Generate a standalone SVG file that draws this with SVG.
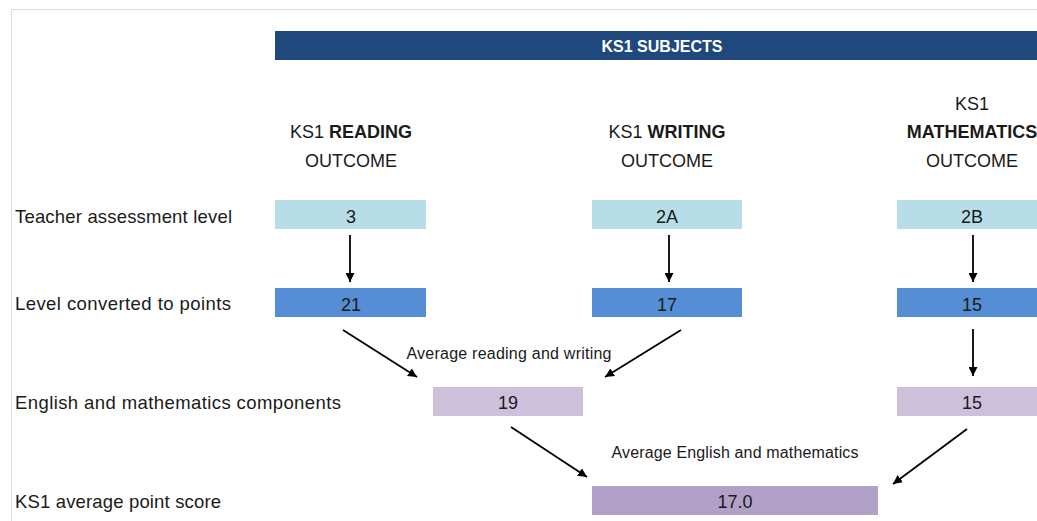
<svg xmlns="http://www.w3.org/2000/svg" width="1037" height="521" viewBox="0 0 1037 521">
<style>
text{font-family:"Liberation Sans",Arial,sans-serif;fill:#1a1a1a}
.lbl{font-size:18.5px}
.hd{font-size:18px;text-anchor:middle}
.val{font-size:18px;text-anchor:middle}
.note{font-size:16px;text-anchor:middle}
.b{font-weight:bold}
.conn line{stroke:#000;stroke-width:1.8;marker-end:url(#ah)}
.ta{fill:#B7DEE8}.pts{fill:#558ED5}.cmp{fill:#CCC0DA}.aps{fill:#B1A0C7}
</style>
<defs>
<marker id="ah" viewBox="0 0 10 10" refX="10" refY="5" markerWidth="5" markerHeight="5" orient="auto" markerUnits="strokeWidth">
<path d="M0,0 L10,5 L0,10 z" fill="#000"/>
</marker>
</defs>
<rect x="0" y="0" width="1037" height="521" fill="#fff"/>
<rect x="11.5" y="9.5" width="1100" height="600" fill="none" stroke="#dedede" stroke-width="1"/>

<g id="header">
<rect x="275" y="31" width="772" height="29" fill="#1F497D"/>
<text x="662" y="52" text-anchor="middle" style="font-size:16px;font-weight:bold;fill:#fff">KS1 SUBJECTS</text>
</g>

<g id="col-reading-title">
<text class="hd" x="351" y="138">KS1 <tspan class="b">READING</tspan></text>
<text class="hd" x="351" y="167">OUTCOME</text>
</g>
<g id="col-writing-title">
<text class="hd" x="667" y="138">KS1 <tspan class="b">WRITING</tspan></text>
<text class="hd" x="667" y="167">OUTCOME</text>
</g>
<g id="col-maths-title">
<text class="hd" x="972" y="110">KS1</text>
<text class="hd b" x="972" y="138">MATHEMATICS</text>
<text class="hd" x="972" y="167">OUTCOME</text>
</g>

<g id="row-labels">
<text class="lbl" x="15" y="223" textLength="217" lengthAdjust="spacing">Teacher assessment level</text>
<text class="lbl" x="15" y="310" textLength="216" lengthAdjust="spacing">Level converted to points</text>
<text class="lbl" x="15" y="409" textLength="326" lengthAdjust="spacing">English and mathematics components</text>
<text class="lbl" x="15" y="508" textLength="206" lengthAdjust="spacing">KS1 average point score</text>
</g>

<g id="reading-ta"><rect class="ta" x="275" y="200" width="151" height="29"/><text class="val" x="351" y="223">3</text></g>
<g id="writing-ta"><rect class="ta" x="592" y="200" width="150" height="29"/><text class="val" x="667" y="223">2A</text></g>
<g id="maths-ta"><rect class="ta" x="897" y="200" width="150" height="29"/><text class="val" x="972" y="223">2B</text></g>

<g id="reading-pts"><rect class="pts" x="275" y="288" width="151" height="29"/><text class="val" x="351" y="311">21</text></g>
<g id="writing-pts"><rect class="pts" x="592" y="288" width="150" height="29"/><text class="val" x="667" y="311">17</text></g>
<g id="maths-pts"><rect class="pts" x="897" y="288" width="150" height="29"/><text class="val" x="972" y="311">15</text></g>

<g id="english-cmp"><rect class="cmp" x="433" y="387" width="150" height="29"/><text class="val" x="508" y="409">19</text></g>
<g id="maths-cmp"><rect class="cmp" x="897" y="387" width="150" height="29"/><text class="val" x="972" y="409">15</text></g>

<g id="aps"><rect class="aps" x="592" y="486" width="286" height="29"/><text class="val" x="735" y="508">17.0</text></g>

<g id="notes">
<text class="note" x="509" y="359" textLength="205" lengthAdjust="spacing">Average reading and writing</text>
<text class="note" x="735" y="458" textLength="247" lengthAdjust="spacing">Average English and mathematics</text>
</g>

<g id="connectors" class="conn">
<line x1="350" y1="235" x2="350" y2="282"/>
<line x1="669" y1="235" x2="669" y2="282"/>
<line x1="973" y1="235" x2="973" y2="282"/>
<line x1="973" y1="329" x2="973" y2="376"/>
<line x1="343" y1="330" x2="417" y2="377"/>
<line x1="681" y1="330" x2="605" y2="377"/>
<line x1="511" y1="427" x2="587" y2="477"/>
<line x1="967" y1="429" x2="893" y2="484"/>
</g>
</svg>
